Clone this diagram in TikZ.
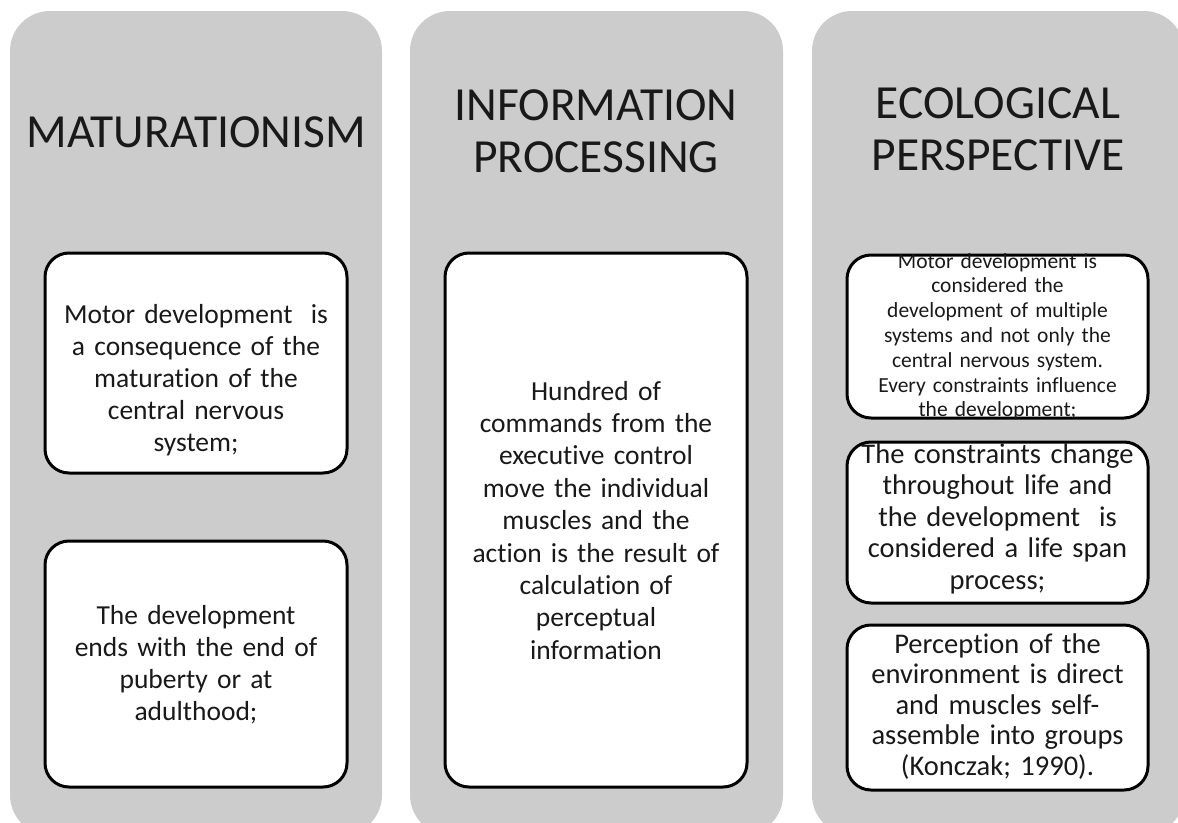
\documentclass[tikz,border=0pt]{standalone}
\usepackage{fontspec}
\setmainfont{Carlito}[Ligatures=NoCommon]
\definecolor{colgrey}{RGB}{204,204,204}
\definecolor{inkblack}{RGB}{25,25,25}
\begin{document}
\begin{tikzpicture}[x=1pt,y=-1pt,
  column/.style={fill=colgrey, rounded corners=40pt},
  card/.style={draw=black, line width=3pt, fill=white, rounded corners=24pt, inner sep=0pt},
  title/.style={font=\fontsize{47.5}{52}\selectfont, text=inkblack, text width=380pt, align=center, anchor=base, inner sep=0pt},
  body/.style={font=\fontsize{27.5}{32}\selectfont, text=inkblack, text width=340pt, align=center, anchor=base, inner sep=0pt},
  small/.style={font=\fontsize{21.5}{24.8}\selectfont, text=inkblack, text width=340pt, align=center, anchor=base, inner sep=0pt}]
\useasboundingbox (0,0) rectangle (1178,822);
\clip (0,0) rectangle (1178,822);
% columns
\fill[column] (10,11) rectangle (382,835);
\fill[column] (410,11) rectangle (783,835);
\fill[column] (812,11) rectangle (1184,835);
% titles
\node[title] (t1) at (196,147) {MATURATIONISM};
\node[title] (t2) at (596,120) {INFORMATION\\PROCESSING};
\node[title] (t3) at (998,118) {ECOLOGICAL\\PERSPECTIVE};
% cards
\node[card, minimum width=302pt, minimum height=220pt] (m1) at (196,363) {};
\node[card, minimum width=302pt, minimum height=246pt] (m2) at (196,664) {};
\node[card, minimum width=302pt, minimum height=534pt] (i1) at (596,520) {};
\node[card, minimum width=301pt, minimum height=163pt] (e1) at (997.5,336.5) {};
\node[card, minimum width=301pt, minimum height=161pt] (e2) at (997.5,522.5) {};
\node[card, minimum width=301pt, minimum height=165pt] (e3) at (997.5,707.5) {};
% texts
\node[body] (m1t) at (196,323) {Motor development~ is\\a consequence of the\\maturation of the\\central nervous\\system;};
\node[body] (m2t) at (196,624) {The development\\ends with the end of\\puberty or at\\adulthood;};
\node[body, font=\fontsize{27.5}{32.4}\selectfont] (i1t) at (596,400) {Hundred of\\commands from the\\executive control\\move the individual\\muscles and the\\action is the result of\\calculation of\\perceptual\\information};
\node[small] (e1t) at (997.5,268) {Motor development is\\considered the\\development of multiple\\systems and not only the\\central nervous system.\\Every constraints influence\\the development;};
\node[body, font=\fontsize{28.5}{31.5}\selectfont] (e2t) at (997.5,463) {The constraints change\\throughout life and\\the development~ is\\considered a life span\\process;};
\node[body, font=\fontsize{28.5}{30.5}\selectfont] (e3t) at (997.5,653) {Perception of the\\environment is direct\\and muscles self-\\assemble into groups\\(Konczak; 1990).};
\end{tikzpicture}
\end{document}
